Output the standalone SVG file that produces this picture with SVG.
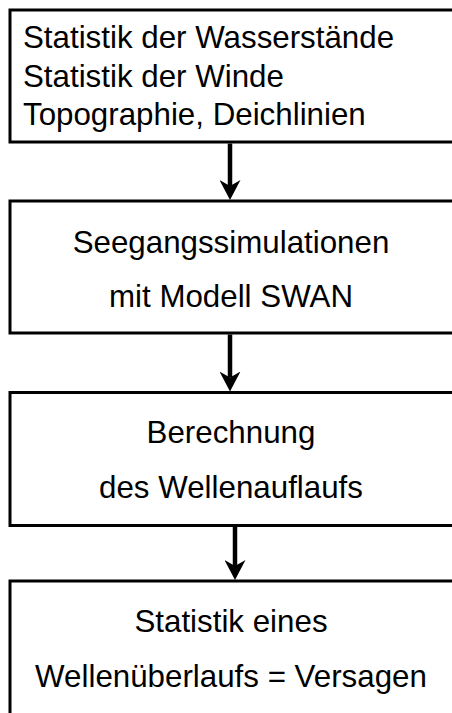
<svg xmlns="http://www.w3.org/2000/svg" width="452" height="713" viewBox="0 0 452 713">
  <style>
    .box { fill: #ffffff; stroke: #000000; stroke-width: 3; }
    .lbl { font-family: "Liberation Sans", Arial, sans-serif; font-size: 31.3px; fill: #000000; }
    .mid { text-anchor: middle; }
    .link { stroke: #000000; stroke-width: 4.5; fill: none; marker-end: url(#head); }
  </style>
  <defs>
    <marker id="head" viewBox="0 0 20 21" refX="6" refY="10.5" markerWidth="20" markerHeight="21" markerUnits="userSpaceOnUse" orient="auto">
      <path d="M0,0 L20,10.5 L0,21 L6,10.5 Z" fill="#000000"/>
    </marker>
  </defs>

  <rect width="452" height="713" fill="#ffffff"/>

  <g id="inputs">
    <rect class="box" x="10" y="10" width="444" height="132"/>
    <text class="lbl" x="23" y="48">Statistik der Wasserstände</text>
    <text class="lbl" x="23" y="87">Statistik der Winde</text>
    <text class="lbl" x="23" y="125">Topographie, Deichlinien</text>
  </g>

  <g id="swan">
    <rect class="box" x="10" y="201" width="444" height="132"/>
    <text class="lbl mid" x="231" y="253">Seegangssimulationen</text>
    <text class="lbl mid" x="231" y="307">mit Modell SWAN</text>
  </g>

  <g id="runup">
    <rect class="box" x="10" y="392.5" width="444" height="133"/>
    <text class="lbl mid" x="231" y="443">Berechnung</text>
    <text class="lbl mid" x="231" y="498">des Wellenauflaufs</text>
  </g>

  <g id="overtopping">
    <rect class="box" x="10" y="581" width="444" height="140"/>
    <text class="lbl mid" x="231" y="632">Statistik eines</text>
    <text class="lbl mid" x="231" y="687">Wellenüberlaufs = Versagen</text>
  </g>

  <g id="connectors">
    <line class="link" x1="230" y1="143.5" x2="230" y2="186"/>
    <line class="link" x1="230" y1="334.5" x2="230" y2="377.5"/>
    <line class="link" x1="235" y1="527" x2="235" y2="566"/>
  </g>
</svg>
